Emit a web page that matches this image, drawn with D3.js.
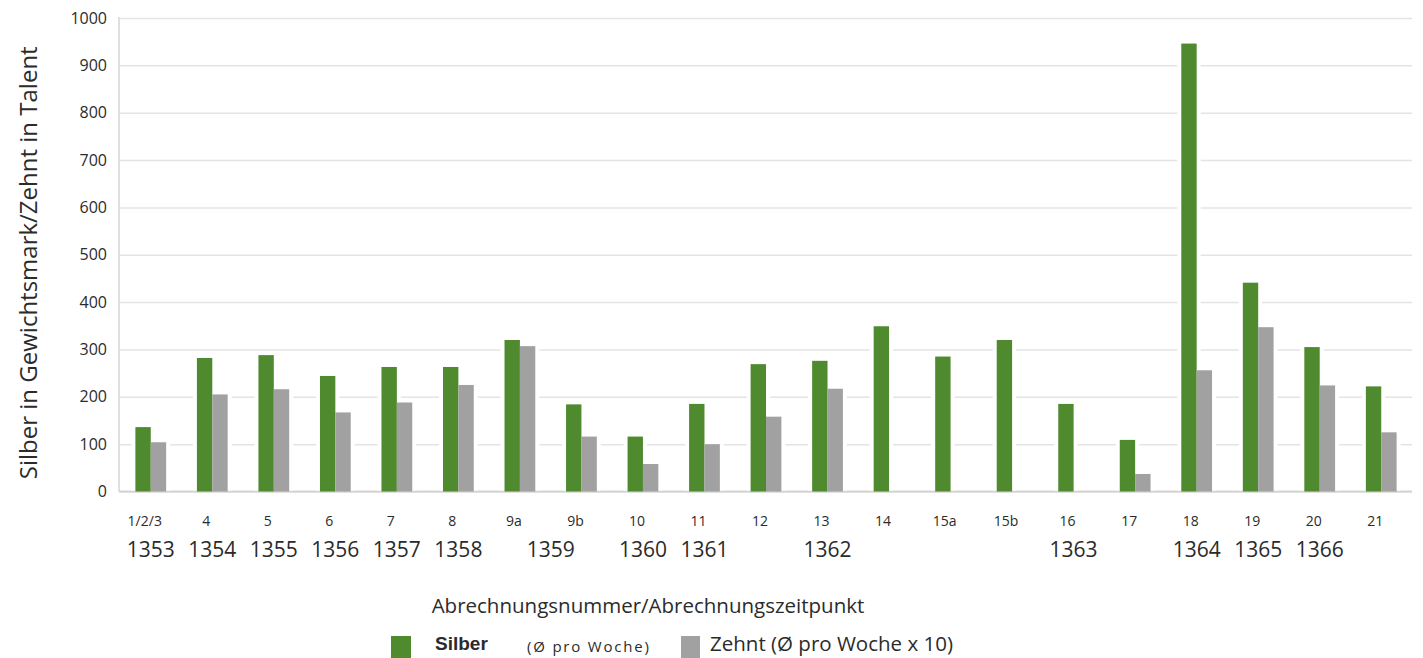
<!DOCTYPE html>
<html>
<head>
<meta charset="utf-8">
<script src="https://cdn.jsdelivr.net/npm/d3@7"></script>
<style>
  html, body { margin: 0; padding: 0; background: #fff; }
  svg { display: block; }
  text { font-family: "Open Sans", "Noto Sans", sans-serif; fill: #2b2b2b; }
</style>
</head>
<body>
<svg id="chart" width="1423" height="658"></svg>
<script>
// Abrechnungsnummern (x categories)
const categories = ["1/2/3", "4", "5", "6", "7", "8", "9a", "9b", "10", "11", "12",
                    "13", "14", "15a", "15b", "16", "17", "18", "19", "20", "21"];

// Silber in Gewichtsmark (Ø pro Woche)
const silber = [136, 282, 288, 244, 263, 263, 320, 184, 116, 185, 269,
                276, 349, 285, 320, 185, 109, 946, 441, 305, 222];

// Zehnt in Talent (Ø pro Woche x 10); null = kein Wert
const zehnt = [104, 205, 216, 167, 188, 225, 307, 116, 58, 100, 158,
               217, null, null, null, null, 37, 256, 347, 224, 125];

// Abrechnungszeitpunkte: year label spanning one or more Abrechnungen
const yearLabels = [
  { year: "1353", from: "1/2/3", to: "1/2/3" },
  { year: "1354", from: "4", to: "4" },
  { year: "1355", from: "5", to: "5" },
  { year: "1356", from: "6", to: "6" },
  { year: "1357", from: "7", to: "7" },
  { year: "1358", from: "8", to: "8" },
  { year: "1359", from: "9a", to: "9b" },
  { year: "1360", from: "10", to: "10" },
  { year: "1361", from: "11", to: "11" },
  { year: "1362", from: "13", to: "13" },
  { year: "1363", from: "16", to: "16" },
  { year: "1364", from: "18", to: "18" },
  { year: "1365", from: "19", to: "19" },
  { year: "1366", from: "20", to: "20" }
];

const yTicks = [0, 100, 200, 300, 400, 500, 600, 700, 800, 900, 1000];

const seriesKeys = ["silber", "zehnt"];
const seriesColors = { silber: "#4f8a2e", zehnt: "#a1a1a1" };

const svg = d3.select("#chart");

const plot = { left: 120, right: 1412, top: 18, bottom: 491.5 };

const x = d3.scaleBand()
  .domain(categories)
  .range([plot.left, plot.right])
  .paddingInner(0.5)
  .paddingOuter(0.25);

const xSub = d3.scaleBand()
  .domain(seriesKeys)
  .range([0, x.bandwidth()])
  .padding(0);

const y = d3.scaleLinear()
  .domain([0, 1000])
  .range([plot.bottom, plot.top]);

const rows = categories.map((c, i) => ({ cat: c, silber: silber[i], zehnt: zehnt[i] }));

// Horizontal grid lines
const grid = svg.append("g")
  .attr("transform", `translate(${plot.left},0)`)
  .call(d3.axisLeft(y).tickValues(yTicks).tickSize(-(plot.right - plot.left)).tickFormat(""));
grid.select(".domain").remove();
grid.selectAll(".tick line")
  .attr("stroke", "#e4e4e4")
  .attr("stroke-width", 1.5);

// Y tick labels
const yAxis = svg.append("g")
  .attr("transform", `translate(${plot.left - 13},0)`)
  .call(d3.axisLeft(y).tickValues(yTicks).tickSize(0).tickPadding(0).tickFormat(d3.format("d")));
yAxis.select(".domain").remove();
yAxis.selectAll("text")
  .style("font-size", "16px")
  .attr("fill", "#3a3a3a");

// Vertical axis line and baseline
svg.append("line")
  .attr("x1", plot.left - 1).attr("x2", plot.left - 1)
  .attr("y1", y(1000) - 1).attr("y2", y(0))
  .attr("stroke", "#d4d4d4").attr("stroke-width", 1.5);
svg.append("line")
  .attr("x1", plot.left - 1).attr("x2", plot.right)
  .attr("y1", y(0)).attr("y2", y(0))
  .attr("stroke", "#d4d4d4").attr("stroke-width", 2);

// Bars, each with a thin white margin that breaks the grid lines
const groups = svg.append("g").selectAll("g")
  .data(rows)
  .join("g")
  .attr("transform", d => `translate(${x(d.cat)},0)`);

const barData = d => seriesKeys
  .filter(k => d[k] != null)
  .map(k => ({ key: k, value: d[k] }));

groups.selectAll("rect.halo")
  .data(barData)
  .join("rect")
  .attr("class", "halo")
  .attr("x", d => xSub(d.key) - 4)
  .attr("width", xSub.bandwidth() + 8)
  .attr("y", d => y(d.value))
  .attr("height", d => y(0) - y(d.value) - 1)
  .attr("fill", "#fff");

groups.selectAll("rect.bar")
  .data(barData)
  .join("rect")
  .attr("class", "bar")
  .attr("x", d => xSub(d.key))
  .attr("width", xSub.bandwidth())
  .attr("y", d => y(d.value))
  .attr("height", d => y(0) - y(d.value))
  .attr("fill", d => seriesColors[d.key]);

// Abrechnungsnummer labels
svg.append("g").selectAll("text")
  .data(categories)
  .join("text")
  .attr("x", d => x(d) + x.bandwidth() / 2 - 6)
  .attr("y", 526)
  .attr("text-anchor", "middle")
  .style("font-size", "14px")
  .text(d => d);

// Year labels
svg.append("g").selectAll("text")
  .data(yearLabels)
  .join("text")
  .attr("x", d => (x(d.from) + x(d.to) + x.bandwidth()) / 2)
  .attr("y", 557)
  .attr("text-anchor", "middle")
  .style("font-size", "21px")
  .text(d => d.year);

// Axis titles
svg.append("text")
  .attr("transform", `translate(37,${(y(0) + y(1000)) / 2 + 8}) rotate(-90)`)
  .attr("text-anchor", "middle")
  .style("font-size", "24px")
  .text("Silber in Gewichtsmark/Zehnt in Talent");

svg.append("text")
  .attr("x", 648)
  .attr("y", 613)
  .attr("text-anchor", "middle")
  .style("font-size", "20.5px")
  .text("Abrechnungsnummer/Abrechnungszeitpunkt");

// Legend
const legend = svg.append("g");
legend.append("rect")
  .attr("x", 391).attr("y", 636).attr("width", 20).attr("height", 22)
  .attr("fill", seriesColors.silber);
legend.append("text")
  .attr("x", 435).attr("y", 650)
  .style("font-family", "'Liberation Sans', Arial, sans-serif")
  .style("font-weight", "bold")
  .style("font-size", "19px")
  .text("Silber");
legend.append("text")
  .attr("x", 527).attr("y", 652)
  .style("font-size", "15px")
  .style("letter-spacing", "1.8px")
  .text("(Ø pro Woche)");
legend.append("rect")
  .attr("x", 681).attr("y", 636).attr("width", 19).attr("height", 22)
  .attr("fill", seriesColors.zehnt);
legend.append("text")
  .attr("x", 710).attr("y", 651)
  .style("font-size", "20.5px")
  .text("Zehnt (Ø pro Woche x 10)");
</script>
</body>
</html>
